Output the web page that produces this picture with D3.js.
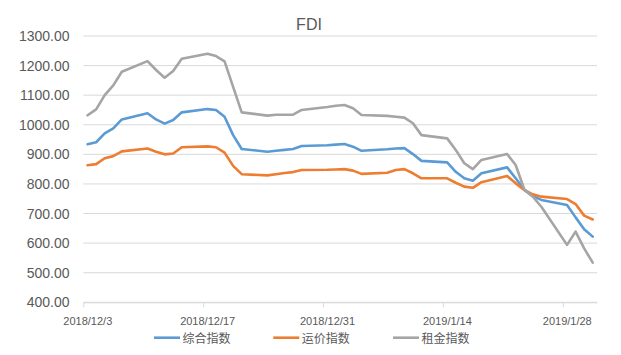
<!DOCTYPE html>
<html><head><meta charset="utf-8">
<script src="https://cdn.jsdelivr.net/npm/d3@7"></script>
<style>body{margin:0;background:#fff;} svg{display:block;font-family:"Liberation Sans",Arial,sans-serif;}</style>
</head><body>
<svg id="c" width="621" height="355"></svg>
<script>
const dates = ["2018-12-03","2018-12-04","2018-12-05","2018-12-06","2018-12-07",
"2018-12-10","2018-12-11","2018-12-12","2018-12-13","2018-12-14",
"2018-12-17","2018-12-18","2018-12-19","2018-12-20","2018-12-21",
"2018-12-24","2018-12-25","2018-12-26","2018-12-27","2018-12-28",
"2018-12-31","2019-01-01","2019-01-02","2019-01-03","2019-01-04",
"2019-01-07","2019-01-08","2019-01-09","2019-01-10","2019-01-11",
"2019-01-14","2019-01-15","2019-01-16","2019-01-17","2019-01-18",
"2019-01-21","2019-01-22","2019-01-23","2019-01-24","2019-01-25",
"2019-01-28","2019-01-29","2019-01-30","2019-01-31"];
const composite = [934,941,971,988,1018, 1039,1018,1004,1016,1042, 1053,1050,1027,965,918,
 909,912,915,918,928, 931,933,935,926,912, 917,920,921,901,878, 873,841,819,811,836,
 856,819,780,759,746, 729,687,647,622];
const freight = [863,867,887,894,910, 920,909,900,903,924, 927,924,906,861,833,
 829,833,837,840,847, 848,849,850,845,834, 838,847,850,836,819, 819,804,791,787,806,
 827,802,780,765,757, 749,732,693,680];
const rent = [1032,1052,1100,1133,1179, 1215,1185,1159,1182,1223, 1240,1232,1214,1128,1042,
 1031,1034,1034,1034,1050, 1060,1064,1067,1056,1033, 1030,1027,1024,1005,965, 954,915,870,850,881,
 901,864,782,757,723, 594,639,582,534];
const seriesNames = ["综合指数","运价指数","租金指数"];
const colors = ["#5b9bd5","#ed7d31","#a5a5a5"];
const yTicks = [400,500,600,700,800,900,1000,1100,1200,1300];
const xTickDates = ["2018-12-03","2018-12-17","2018-12-31","2019-01-14","2019-01-28"];
const xTickLabels = ["2018/12/3","2018/12/17","2018/12/31","2019/1/14","2019/1/28"];
const title = "FDI";

const svg = d3.select("#c");
const parse = s => new Date(s + "T00:00:00Z");
const x = d3.scaleUtc().domain([parse("2018-12-03"), parse("2019-02-01")]).range([83.3, 597]);
const y = d3.scaleLinear().domain([400,1300]).range([302.3, 36]);
const textCol = "#595959";

// gridlines
svg.append("g").selectAll("line").data(yTicks).join("line")
  .attr("x1", 83.3).attr("x2", 597).attr("y1", d=>y(d)).attr("y2", d=>y(d))
  .attr("stroke", "#d9d9d9").attr("stroke-width", 1);

// y labels
svg.append("g").selectAll("text").data(yTicks).join("text")
  .attr("x", 69.5).attr("y", d=>y(d)+5).attr("text-anchor","end")
  .attr("font-size", 14).attr("fill", textCol).text(d=>d3.format(".2f")(d));

// x axis
const xg = svg.append("g").attr("transform","translate(0,302.3)");
const xa = d3.axisBottom(x).tickValues(xTickDates.map(parse))
  .tickFormat((d,i)=>xTickLabels[i]).tickSize(5).tickSizeOuter(0);
xg.call(xa);
xg.select(".domain").attr("stroke","#d9d9d9");
xg.selectAll(".tick line").attr("stroke","#d9d9d9");
xg.selectAll(".tick text").attr("font-size",11).attr("fill",textCol)
  .attr("font-family",'"Liberation Sans",Arial,sans-serif').attr("dy",0).attr("y",23).attr("x",4);

// lines
const half = 12*3600*1000;
const allSeries = [composite, freight, rent];
const line = d3.line().x(d=>x(new Date(d.date.getTime()+half))).y(d=>y(d.v));
allSeries.forEach((vals, i) => {
  const data = dates.map((d,j)=>({date: parse(d), v: vals[j]}));
  svg.append("path").datum(data).attr("d", line)
    .attr("fill","none").attr("stroke", colors[i]).attr("stroke-width", 2.6)
    .attr("stroke-linejoin","round").attr("stroke-linecap","round");
});

// title
svg.append("text").attr("x", 309).attr("y", 30).attr("text-anchor","middle")
  .attr("font-size", 16).attr("fill", textCol).text(title);

// legend
const legX = [154, 273.3, 393];
const lg = svg.append("g");
seriesNames.forEach((n,i)=>{
  lg.append("line").attr("x1",legX[i]).attr("x2",legX[i]+26).attr("y1",337.7).attr("y2",337.7)
    .attr("stroke",colors[i]).attr("stroke-width",2.6);
  lg.append("text").attr("x",legX[i]+28.5).attr("y",342.5).attr("font-size",12)
    .attr("font-family",'"Noto Sans CJK SC",sans-serif').attr("fill",textCol).text(n);
});
</script>
</body></html>
